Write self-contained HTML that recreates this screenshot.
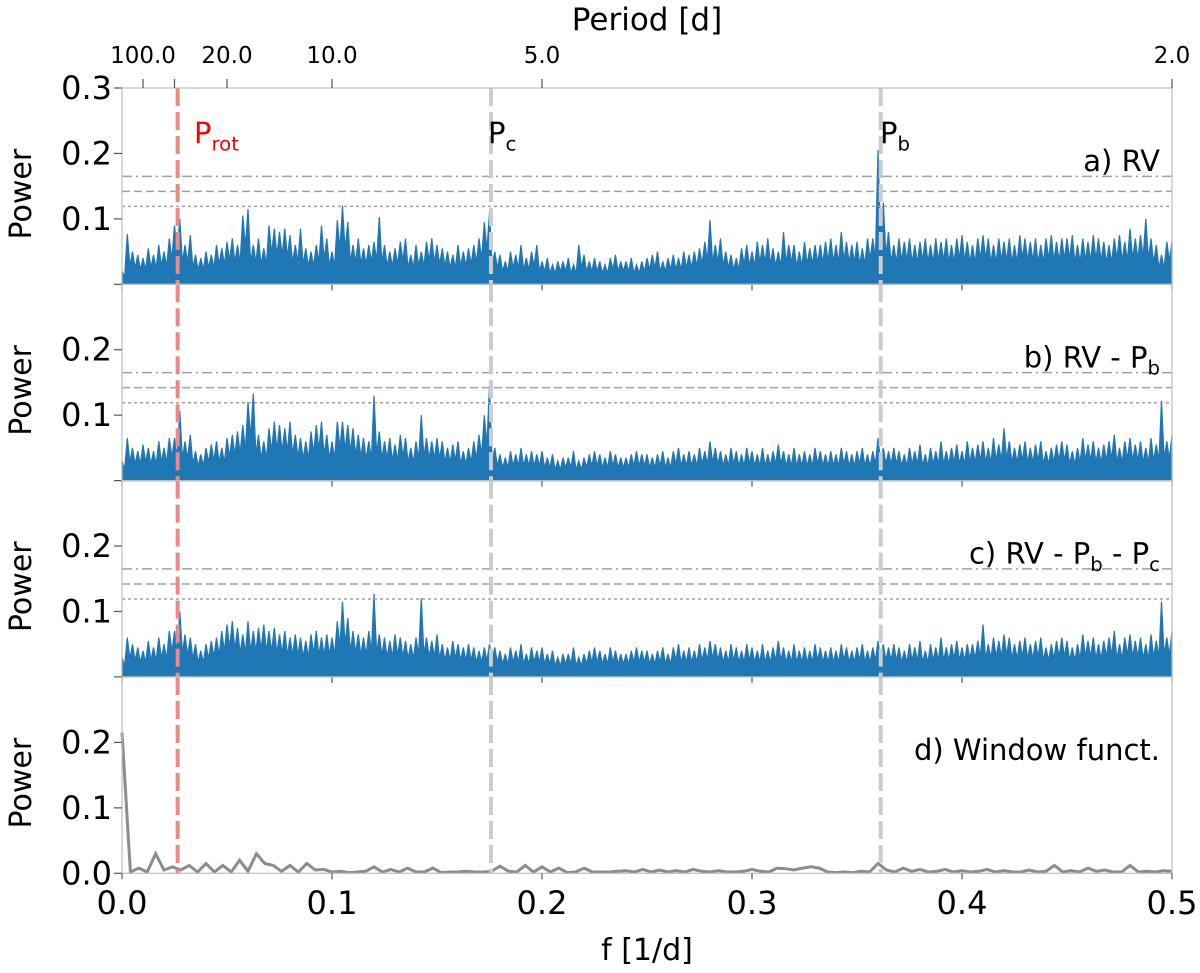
<!DOCTYPE html>
<html><head><meta charset="utf-8"><style>
body{margin:0;background:#fff}
svg{display:block;font-family:"DejaVu Sans","Liberation Sans",sans-serif}
</style></head><body>
<svg id="chart" width="1200" height="973" viewBox="0 0 1200 973"></svg>
<script>
const panelNames=['panel-rv','panel-rv-minus-pb','panel-rv-minus-pb-pc','panel-window-function'];
const panelLabels=['a) RV','b) RV - P|b','c) RV - P|b - P|c','d) Window funct.'];
const fStep=0.0025;
const powerA=[.02,.077,.05,.045,.04,.055,.045,.06,.05,.07,
.09,.10,.06,.075,.045,.04,.05,.045,.06,.055,
.065,.07,.06,.105,.115,.06,.07,.055,.09,.085,
.08,.085,.075,.06,.085,.055,.05,.06,.09,.07,
.05,.098,.12,.095,.06,.07,.055,.06,.065,.103,
.06,.05,.055,.065,.07,.045,.06,.05,.065,.07,
.06,.055,.05,.045,.06,.05,.055,.06,.07,.095,
.11,.05,.045,.035,.05,.045,.06,.04,.05,.06,
.035,.04,.03,.035,.035,.04,.03,.06,.045,.035,
.04,.035,.03,.04,.045,.035,.035,.04,.03,.035,
.04,.045,.05,.035,.04,.045,.04,.05,.045,.05,
.055,.065,.098,.06,.07,.05,.045,.04,.055,.06,
.05,.065,.06,.07,.055,.05,.08,.06,.06,.05,
.065,.055,.06,.06,.065,.07,.06,.08,.065,.06,
.065,.055,.07,.07,.205,.125,.08,.06,.07,.065,
.07,.06,.065,.07,.06,.07,.065,.07,.06,.07,
.075,.065,.06,.07,.075,.07,.06,.07,.065,.07,
.06,.075,.07,.065,.07,.06,.07,.075,.065,.07,
.07,.075,.06,.07,.065,.075,.07,.065,.06,.07,
.075,.065,.085,.07,.075,.10,.07,.06,.045,.065,.065];
const powerB=[.03,.065,.05,.045,.055,.05,.045,.06,.05,.065,
.065,.106,.06,.07,.045,.04,.05,.055,.06,.05,
.065,.07,.075,.085,.12,.133,.07,.06,.08,.09,
.085,.08,.09,.07,.065,.06,.075,.085,.09,.07,
.06,.09,.09,.085,.08,.07,.065,.06,.13,.075,
.06,.065,.055,.07,.065,.05,.06,.10,.065,.06,
.065,.06,.05,.055,.06,.045,.05,.06,.07,.10,
.146,.05,.04,.035,.045,.04,.05,.04,.045,.04,
.045,.035,.04,.03,.035,.035,.045,.03,.035,.04,
.045,.04,.035,.045,.04,.035,.035,.04,.045,.04,
.04,.035,.04,.045,.035,.045,.05,.04,.045,.04,
.05,.045,.06,.05,.045,.04,.05,.045,.04,.05,
.045,.04,.05,.04,.045,.055,.045,.04,.05,.04,
.045,.04,.05,.045,.04,.045,.04,.05,.045,.04,
.045,.05,.04,.045,.065,.05,.045,.05,.045,.04,
.05,.045,.055,.04,.05,.045,.06,.045,.05,.055,
.045,.06,.05,.055,.06,.05,.065,.055,.08,.06,
.05,.055,.06,.05,.055,.06,.045,.05,.055,.06,
.055,.045,.05,.065,.055,.06,.05,.055,.06,.07,
.05,.06,.065,.055,.06,.05,.065,.055,.122,.06,.07];
const powerC=[.03,.06,.05,.045,.04,.055,.045,.06,.05,.07,
.07,.10,.065,.06,.05,.04,.05,.055,.06,.07,
.08,.085,.075,.065,.085,.07,.075,.08,.07,.075,
.065,.07,.06,.065,.06,.055,.065,.07,.06,.065,
.06,.085,.115,.09,.07,.065,.06,.07,.127,.065,
.06,.055,.065,.06,.055,.05,.06,.12,.06,.055,
.065,.05,.045,.055,.05,.045,.05,.045,.04,.045,
.05,.045,.04,.035,.045,.04,.05,.035,.045,.04,
.045,.035,.04,.03,.035,.035,.045,.03,.035,.04,
.045,.04,.035,.045,.04,.035,.035,.04,.045,.04,
.04,.035,.04,.045,.035,.045,.05,.04,.045,.04,
.05,.045,.055,.05,.045,.04,.05,.045,.04,.05,
.045,.04,.05,.04,.045,.055,.045,.04,.05,.04,
.045,.04,.05,.045,.04,.045,.04,.05,.045,.04,
.045,.05,.04,.045,.055,.05,.045,.05,.045,.04,
.05,.045,.055,.04,.05,.045,.06,.045,.05,.055,
.045,.05,.05,.055,.08,.05,.06,.055,.065,.06,
.05,.055,.06,.05,.055,.06,.045,.05,.055,.06,
.055,.045,.05,.065,.055,.06,.05,.055,.06,.07,
.05,.06,.065,.055,.06,.05,.065,.055,.115,.06,.07];
const wStep=0.004;
const powerWindow=[.215,.002,.008,.002,.03,.005,.01,.005,.012,.002,
.015,.002,.012,.002,.02,.003,.03,.015,.012,.003,
.012,.002,.015,.005,.006,.002,.003,.001,.002,.003,
.01,.002,.006,.002,.008,.002,.002,.008,.001,.002,
.002,.003,.002,.002,.003,.011,.003,.002,.012,.002,
.010,.002,.008,.001,.002,.008,.002,.002,.002,.003,
.004,.002,.006,.002,.005,.002,.004,.002,.006,.003,
.002,.004,.002,.002,.003,.006,.003,.002,.008,.007,
.005,.008,.010,.008,.002,.001,.002,.001,.003,.002,
.015,.005,.002,.008,.003,.006,.002,.003,.006,.002,
.004,.002,.003,.006,.002,.004,.002,.002,.005,.002,
.003,.012,.002,.004,.002,.008,.003,.005,.002,.002,
.012,.002,.003,.002,.004,.003];
const thresholds=[0.165,0.142,0.119];
const markFreqs=[0.0265,0.1757,0.3613];
const xTicks=[0,0.1,0.2,0.3,0.4,0.5];
const periodTicks=[100,40,20,10,5,2];
const periodLabels=['100.0','','20.0','10.0','5.0','2.0'];

const NS='http://www.w3.org/2000/svg';
const svg=document.getElementById('chart');
const X0=122,X1=1172,PH=196.3,tops=[88,284.3,480.6,677];
const xs=f=>X0+(f/0.5)*(X1-X0);
function ys(p,k){return tops[k]+PH-(p/0.3)*PH;}
function el(tag,attrs,parent){const e=document.createElementNS(NS,tag);for(const k in attrs)e.setAttribute(k,attrs[k]);(parent||svg).appendChild(e);return e;}
function sub(parent,str,x,y,size,color,anchor){
  const t=el('text',{x:x,y:y,'font-size':size,fill:color,'text-anchor':anchor||'start'},parent);
  const parts=str.split('|');
  t.appendChild(document.createTextNode(parts[0]));
  for(let i=1;i<parts.length;i++){
    const m=parts[i].match(/^(\S+)(.*)$/);
    const s=el('tspan',{'font-size':size*0.68,dy:size*0.25},t);s.textContent=m[1];
    if(m[2]){const r=el('tspan',{dy:-size*0.25},t);r.textContent=m[2];}
  }
  return t;
}
const series=[powerA,powerB,powerC];
for(let k=0;k<4;k++){
  const g=el('g',{});
  
  
  const bot=tops[k]+PH;
  if(k<3){
    const arr=series[k];
    let d='M'+xs(0)+','+bot;
    arr.forEach((p,i)=>{
      d+=' L'+xs(i*fStep).toFixed(1)+','+ys(p,k).toFixed(1);
      if(i<arr.length-1){
        const lo=Math.min(p,arr[i+1])*0.55;
        d+=' L'+xs((i+0.5)*fStep).toFixed(1)+','+ys(lo,k).toFixed(1);
      }
    });
    d+=' L'+xs((arr.length-1)*fStep)+','+bot+' Z';
    const area=el('path',{d:d,fill:'#1f77b4',stroke:'#1f77b4','stroke-width':1.2,'stroke-linejoin':'miter'},g);
    
    
    const dashes=['10,4,2,4','8,4','3,3'];
    thresholds.forEach((t,j)=>{
      const ln=el('line',{x1:X0,x2:X1,y1:ys(t,k),y2:ys(t,k),stroke:'#a0a0a0','stroke-width':1.5,'stroke-dasharray':dashes[j]},g);
      
      
    });
  } else {
    let pts=powerWindow.map((p,i)=>xs(i*wStep).toFixed(1)+','+ys(p,k).toFixed(1)).join(' ');
    const pl=el('polyline',{points:pts,fill:'none',stroke:'#8c8c8c','stroke-width':3},g);
    
    
  }
  markFreqs.forEach((f,j)=>{
    const vl=el('line',{x1:xs(f),x2:xs(f),y1:tops[k],y2:bot,stroke:j==0?'#ee8888':'#cccccc','stroke-width':4,'stroke-dasharray':'18,6'},g);
    
    
  });
  const fr=el('rect',{x:X0,y:tops[k],width:X1-X0,height:PH,fill:'none',stroke:'#bdbdbd','stroke-width':1.2},g);
  
  
  const yt=k==0?[0,0.1,0.2,0.3]:[0,0.1,0.2];
  yt.forEach(v=>{
    el('line',{x1:X0-8,x2:X0,y1:ys(v,k),y2:ys(v,k),stroke:'#555','stroke-width':1.2},g);
    if(v>0||k==3){const t=el('text',{x:X0-10,y:ys(v,k)+11,'font-size':32,'text-anchor':'end',fill:'#000'},g);t.textContent=v.toFixed(1);
      }
  });
  xTicks.forEach(v=>{el('line',{x1:xs(v),x2:xs(v),y1:bot,y2:bot+6,stroke:'#555','stroke-width':1.2},g);});
  const yl=el('text',{x:0,y:0,'font-size':30,'text-anchor':'middle',transform:'translate(31,'+(tops[k]+PH/2+8)+') rotate(-90)'},g);
  yl.textContent='Power';
  
  
  const pl2=sub(g,panelLabels[k],1160,tops[k]+83,29,'#000','end');
  
  
}
const m1=sub(svg,'P|rot',194,143,29,'#ff0000');
const m2=sub(svg,'P|c',488,143,29,'#000');
const m3=sub(svg,'P|b',880,143,29,'#000');
xTicks.forEach(v=>{const t=el('text',{x:xs(v),y:914,'font-size':32,'text-anchor':'middle'});t.textContent=v.toFixed(1);
  });
const xt=el('text',{x:647,y:960,'font-size':30,'text-anchor':'middle'});xt.textContent='f [1/d]';

periodTicks.forEach((p,i)=>{const x=xs(1/p);
  el('line',{x1:x,x2:x,y1:79,y2:88,stroke:'#555','stroke-width':1.2});
  if(periodLabels[i]){const t=el('text',{x:x,y:63,'font-size':23,'text-anchor':'middle'});t.textContent=periodLabels[i];
  }});
const pt=el('text',{x:647,y:30,'font-size':31,'text-anchor':'middle'});pt.textContent='Period [d]';

</script>
</body></html>
